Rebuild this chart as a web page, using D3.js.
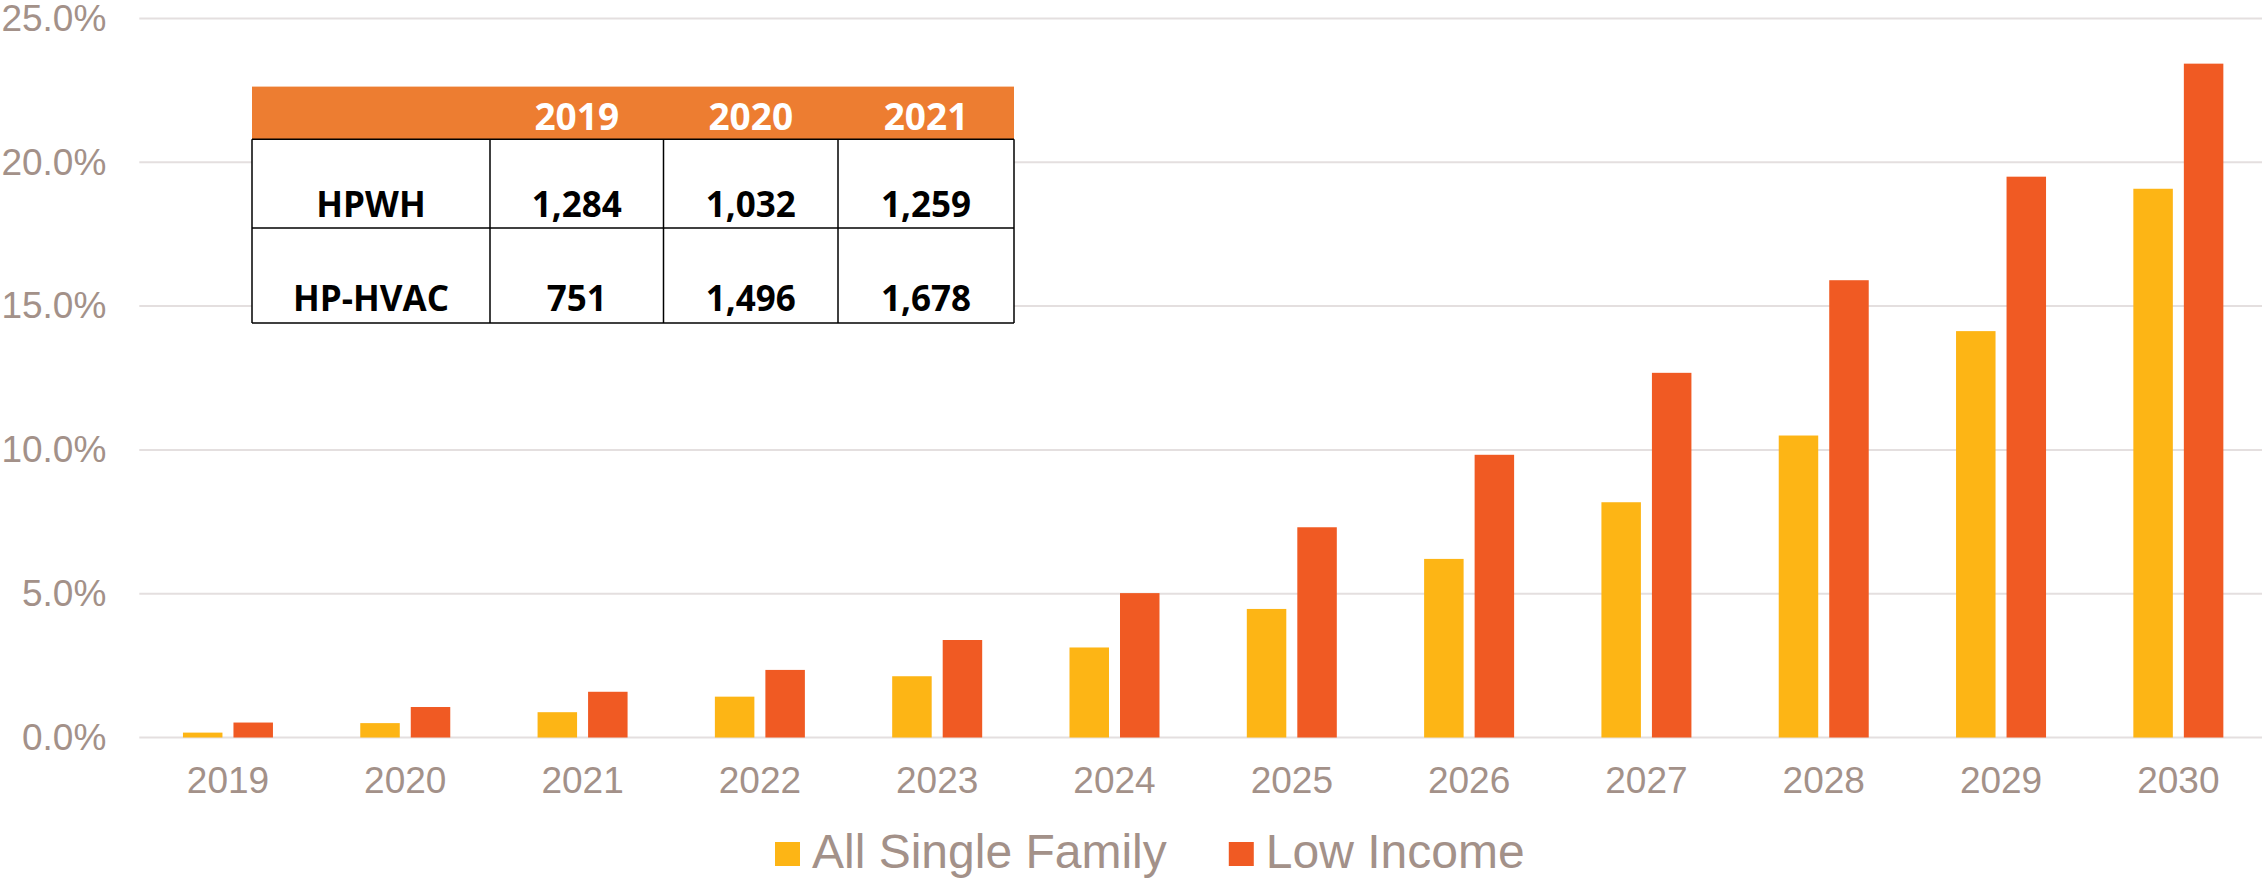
<!DOCTYPE html>
<html>
<head>
<meta charset="utf-8">
<script src="https://cdn.jsdelivr.net/npm/d3@7"></script>
<style>
  html, body { margin: 0; padding: 0; background: #fff; }
  svg { display: block; }
</style>
</head>
<body>
<svg id="chart" width="2262" height="878"></svg>
<script>
// ---- data ----
const years = ["2019","2020","2021","2022","2023","2024","2025","2026","2027","2028","2029","2030"];
const seriesNames = ["All Single Family", "Low Income"];
const allSingleFamily = [0.0017, 0.0050, 0.0088, 0.0142, 0.0213, 0.0313, 0.0447, 0.0621, 0.0818, 0.1050, 0.1413, 0.1908];
const lowIncome       = [0.0052, 0.0106, 0.0159, 0.0235, 0.0339, 0.0502, 0.0731, 0.0983, 0.1268, 0.1590, 0.1950, 0.2343];
const yTicks = [0, 0.05, 0.10, 0.15, 0.20, 0.25];

const tableYears = ["2019", "2020", "2021"];
const tableRowLabels = ["HPWH", "HP-HVAC"];
const hpwhCounts = [1284, 1032, 1259];
const hpHvacCounts = [751, 1496, 1678];

// ---- styles ----
const colors = ["#FDB515", "#F05A23"];
const textColor = "#A39189";
const gridColor = "#E4DFDF";
const axisFont = "'Liberation Sans', Arial, sans-serif";
const tableFont = "'Open Sans', 'Liberation Sans', sans-serif";

const svg = d3.select("#chart");

const plot = { left: 139.3, right: 2267, top: 18.5, bottom: 737.5 };

const x = d3.scaleBand().domain(years).range([plot.left, plot.right]).padding(0);
const groupWidth = 90;
const xInner = d3.scaleBand().domain([0, 1]).range([0, groupWidth]).paddingInner(0.218).paddingOuter(0);
const y = d3.scaleLinear().domain([0, 0.25]).range([plot.bottom, plot.top]);

// gridlines
svg.append("g")
  .selectAll("line")
  .data(yTicks)
  .join("line")
  .attr("x1", plot.left)
  .attr("x2", plot.right)
  .attr("y1", d => y(d))
  .attr("y2", d => y(d))
  .attr("stroke", gridColor)
  .attr("stroke-width", 2);

// y axis
const yAxis = svg.append("g")
  .attr("transform", `translate(${plot.left},0)`)
  .call(d3.axisLeft(y).tickValues(yTicks).tickFormat(d3.format(".1%")).tickSize(0).tickPadding(33));
yAxis.select(".domain").remove();
yAxis.selectAll("text")
  .attr("fill", textColor)
  .style("font-family", axisFont)
  .style("font-size", "37px");

// x axis
const xAxis = svg.append("g")
  .attr("transform", `translate(0,${plot.bottom})`)
  .call(d3.axisBottom(x).tickSize(0).tickPadding(29));
xAxis.select(".domain").remove();
xAxis.selectAll("text")
  .attr("fill", textColor)
  .style("font-family", axisFont)
  .style("font-size", "37px");

// bars
const seriesValues = [allSingleFamily, lowIncome];
const groups = svg.append("g")
  .selectAll("g")
  .data(years)
  .join("g")
  .attr("transform", d => `translate(${x(d) + x.bandwidth() / 2 - groupWidth / 2},0)`);

groups.selectAll("rect")
  .data((d, i) => seriesValues.map((vals, s) => ({ s, v: vals[i] })))
  .join("rect")
  .attr("x", d => xInner(d.s))
  .attr("width", xInner.bandwidth())
  .attr("y", d => y(d.v))
  .attr("height", d => y(0) - y(d.v))
  .attr("fill", d => colors[d.s]);

// legend
const legend = svg.append("g");
let lx = 775;
seriesNames.forEach((name, i) => {
  legend.append("rect")
    .attr("x", lx).attr("y", 842)
    .attr("width", 25).attr("height", 24)
    .attr("fill", colors[i]);
  const t = legend.append("text")
    .attr("x", lx + 37).attr("y", 868)
    .attr("fill", textColor)
    .style("font-family", axisFont)
    .style("font-size", "48px")
    .text(name);
  lx = lx + 37 + t.node().getComputedTextLength() + 62;
});

// table overlay
const table = svg.append("g");
const tLeft = 252, tRight = 1014;
const colEdges = [tLeft, 490, 663.5, 838, tRight];
const rowEdges = [86.6, 139.3, 228, 323];

table.append("rect")
  .attr("x", tLeft).attr("y", rowEdges[0])
  .attr("width", tRight - tLeft).attr("height", rowEdges[1] - rowEdges[0])
  .attr("fill", "#ED7D31");
table.append("rect")
  .attr("x", tLeft).attr("y", rowEdges[1])
  .attr("width", tRight - tLeft).attr("height", rowEdges[3] - rowEdges[1])
  .attr("fill", "#ffffff");

// horizontal lines
table.selectAll("line.h")
  .data(rowEdges.slice(1))
  .join("line")
  .attr("class", "h")
  .attr("x1", tLeft).attr("x2", tRight)
  .attr("y1", d => d).attr("y2", d => d)
  .attr("stroke", "#000").attr("stroke-width", 1.5);
// vertical lines
table.selectAll("line.v")
  .data(colEdges)
  .join("line")
  .attr("class", "v")
  .attr("x1", d => d).attr("x2", d => d)
  .attr("y1", rowEdges[1]).attr("y2", rowEdges[3])
  .attr("stroke", "#000").attr("stroke-width", 1.5);

const colCenter = i => (colEdges[i] + colEdges[i + 1]) / 2;
// header
table.selectAll("text.hdr")
  .data(tableYears)
  .join("text")
  .attr("class", "hdr")
  .attr("x", (d, i) => colCenter(i + 1))
  .attr("y", 129.5)
  .attr("text-anchor", "middle")
  .attr("fill", "#fff")
  .style("font-family", tableFont)
  .style("font-weight", "bold")
  .style("font-size", "37px")
  .text(d => d);

const fmt = d3.format(",");
const rowData = [hpwhCounts, hpHvacCounts];
const baselines = [216.5, 310.5];
tableRowLabels.forEach((label, r) => {
  const cells = [label].concat(rowData[r].map(fmt));
  table.selectAll(`text.r${r}`)
    .data(cells)
    .join("text")
    .attr("class", `r${r}`)
    .attr("x", (d, i) => colCenter(i))
    .attr("y", baselines[r])
    .attr("text-anchor", "middle")
    .attr("fill", "#000")
    .style("font-family", tableFont)
    .style("font-weight", "bold")
    .style("font-size", "35px")
    .text(d => d);
});
</script>
</body>
</html>
